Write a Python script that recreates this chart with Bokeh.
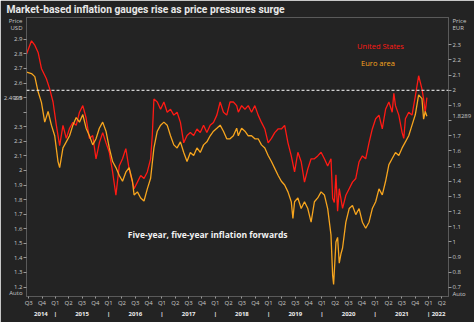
from bokeh.plotting import figure
from bokeh.models import Range1d, LinearAxis, FixedTicker, Label, Span
from bokeh.embed import file_html
from bokeh.resources import INLINE

# ---- data (decimal year, value) ----
us_x = [2014.460, 2014.553, 2014.615, 2014.677, 2014.739, 2014.832, 2014.894, 2014.957,
        2015.019, 2015.081, 2015.143, 2015.205, 2015.267, 2015.329, 2015.391, 2015.453,
        2015.515, 2015.577, 2015.639, 2015.701, 2015.763, 2015.825, 2015.888, 2015.950,
        2016.012, 2016.074, 2016.136, 2016.198, 2016.260, 2016.322, 2016.384, 2016.446,
        2016.477, 2016.539, 2016.601, 2016.663, 2016.725, 2016.787, 2016.818, 2016.849,
        2016.912, 2016.974, 2017.036, 2017.098, 2017.160, 2017.222, 2017.284, 2017.346,
        2017.408, 2017.470, 2017.532, 2017.594, 2017.656, 2017.718, 2017.780, 2017.842,
        2017.904, 2017.966, 2018.029, 2018.091, 2018.153, 2018.215, 2018.277, 2018.339,
        2018.401, 2018.432, 2018.494, 2018.556, 2018.618, 2018.680, 2018.742, 2018.804,
        2018.866, 2018.929, 2018.991, 2019.053, 2019.115, 2019.177, 2019.239, 2019.301,
        2019.363, 2019.425, 2019.487, 2019.549, 2019.611, 2019.673, 2019.735, 2019.797,
        2019.859, 2019.921, 2019.984, 2020.046, 2020.108, 2020.170, 2020.201, 2020.232,
        2020.263, 2020.294, 2020.325, 2020.387, 2020.449, 2020.511, 2020.573, 2020.635,
        2020.697, 2020.759, 2020.821, 2020.883, 2020.945, 2021.008, 2021.070, 2021.132,
        2021.194, 2021.256, 2021.318, 2021.349, 2021.380, 2021.442, 2021.504, 2021.535,
        2021.566, 2021.628, 2021.690, 2021.752, 2021.814, 2021.876, 2021.907, 2021.938,
        2021.969]
us_y = [2.80, 2.89, 2.86, 2.81, 2.70, 2.63, 2.56, 2.47,
        2.31, 2.17, 2.31, 2.22, 2.29, 2.33, 2.31, 2.40,
        2.445, 2.36, 2.22, 2.24, 2.08, 2.19, 2.26, 2.19,
        2.125, 1.99, 1.83, 2.03, 2.08, 2.15, 2.01, 1.92,
        1.875, 1.92, 1.966, 1.945, 1.99, 2.08, 2.24, 2.49,
        2.47, 2.42, 2.47, 2.40, 2.42, 2.38, 2.40, 2.33,
        2.19, 2.24, 2.26, 2.24, 2.285, 2.26, 2.31, 2.26,
        2.31, 2.33, 2.38, 2.47, 2.40, 2.38, 2.47, 2.47,
        2.445, 2.40, 2.445, 2.42, 2.445, 2.40, 2.445, 2.38,
        2.33, 2.285, 2.19, 2.22, 2.26, 2.285, 2.285, 2.31,
        2.19, 2.10, 1.99, 2.125, 2.06, 1.92, 2.01, 2.08,
        2.08, 2.10, 2.125, 2.08, 2.03, 2.08, 1.81, 1.78,
        1.97, 1.72, 1.875, 1.74, 1.83, 1.875, 1.92, 1.945,
        2.06, 2.10, 2.08, 2.19, 2.285, 2.355, 2.38, 2.285,
        2.42, 2.47, 2.40, 2.53, 2.445, 2.38, 2.26, 2.22,
        2.355, 2.40, 2.38, 2.51, 2.65, 2.56, 2.49, 2.40,
        2.4999]

ea_x = [2014.460, 2014.553, 2014.615, 2014.677, 2014.739, 2014.801, 2014.864, 2014.926,
        2014.988, 2015.050, 2015.081, 2015.143, 2015.205, 2015.267, 2015.329, 2015.391,
        2015.453, 2015.515, 2015.577, 2015.639, 2015.701, 2015.763, 2015.825, 2015.888,
        2015.950, 2016.012, 2016.074, 2016.136, 2016.198, 2016.260, 2016.322, 2016.384,
        2016.446, 2016.477, 2016.539, 2016.601, 2016.663, 2016.725, 2016.787, 2016.849,
        2016.912, 2016.974, 2017.036, 2017.098, 2017.160, 2017.222, 2017.284, 2017.346,
        2017.408, 2017.470, 2017.532, 2017.594, 2017.656, 2017.718, 2017.780, 2017.842,
        2017.904, 2017.966, 2018.029, 2018.091, 2018.153, 2018.215, 2018.277, 2018.339,
        2018.401, 2018.432, 2018.494, 2018.556, 2018.618, 2018.680, 2018.742, 2018.804,
        2018.866, 2018.929, 2018.991, 2019.053, 2019.115, 2019.177, 2019.239, 2019.301,
        2019.363, 2019.425, 2019.456, 2019.487, 2019.549, 2019.611, 2019.673, 2019.735,
        2019.797, 2019.859, 2019.921, 2019.984, 2020.046, 2020.108, 2020.170, 2020.201,
        2020.219, 2020.263, 2020.294, 2020.325, 2020.356, 2020.387, 2020.449, 2020.511,
        2020.573, 2020.635, 2020.697, 2020.759, 2020.821, 2020.883, 2020.945, 2021.008,
        2021.070, 2021.132, 2021.194, 2021.256, 2021.318, 2021.380, 2021.442, 2021.504,
        2021.566, 2021.628, 2021.690, 2021.752, 2021.814, 2021.876, 2021.907, 2021.938,
        2021.969]
ea_y = [2.12, 2.11, 2.09, 1.99, 1.92, 1.79, 1.86, 1.77,
        1.70, 1.53, 1.49, 1.62, 1.66, 1.70, 1.77, 1.82,
        1.79, 1.84, 1.75, 1.70, 1.64, 1.68, 1.75, 1.79,
        1.73, 1.62, 1.53, 1.49, 1.44, 1.40, 1.46, 1.49,
        1.40, 1.31, 1.33, 1.29, 1.27, 1.35, 1.42, 1.62,
        1.73, 1.77, 1.79, 1.77, 1.70, 1.64, 1.62, 1.66,
        1.59, 1.53, 1.59, 1.57, 1.62, 1.59, 1.64, 1.66,
        1.70, 1.73, 1.75, 1.77, 1.73, 1.68, 1.68, 1.70,
        1.75, 1.70, 1.75, 1.73, 1.70, 1.70, 1.68, 1.68,
        1.64, 1.62, 1.57, 1.53, 1.485, 1.44, 1.40, 1.375,
        1.33, 1.265, 1.155, 1.265, 1.29, 1.22, 1.265, 1.22,
        1.13, 1.265, 1.29, 1.33, 1.31, 1.22, 1.046, 0.78,
        0.72, 1.00, 1.03, 0.86, 0.92, 0.96, 1.13, 1.22,
        1.24, 1.18, 1.22, 1.13, 1.09, 1.13, 1.22, 1.265,
        1.35, 1.31, 1.40, 1.51, 1.55, 1.59, 1.57, 1.62,
        1.66, 1.70, 1.77, 1.84, 1.97, 1.945, 1.81, 1.86,
        1.8289]

usd_ticks = [1.2, 1.3, 1.4, 1.5, 1.6, 1.7, 1.8, 1.9, 2.0, 2.1, 2.2, 2.3, 2.4, 2.5, 2.6, 2.7, 2.8, 2.9]
eur_ticks = [0.7, 0.8, 0.9, 1.0, 1.1, 1.2, 1.3, 1.4, 1.5, 1.6, 1.7, 1.8, 1.9, 2.0, 2.1, 2.2, 2.3]
years = [2014, 2015, 2016, 2017, 2018, 2019, 2020, 2021, 2022]
quarter_names = ["Q1", "Q2", "Q3", "Q4"]

title_text = "Market-based inflation gauges rise as price pressures surge"
us_name = "United States"
ea_name = "Euro area"
note_text = "Five-year, five-year inflation forwards"
unit_word = "Price"
usd_word = "USD"
eur_word = "EUR"
auto_word = "Auto"

BG = "#232323"
RED = "#ff1a14"
ORANGE = "#f7a51e"
FONT = "Open Sans"

X0, X1 = 2014.459, 2022.374
USD0, USD1 = 1.135, 3.05
EUR0, EUR1 = 0.64, 2.48
p = figure(width=474, height=322, output_backend="svg", toolbar_location=None,
           x_range=Range1d(X0, X1), y_range=Range1d(USD0, USD1),
           x_axis_location=None, y_axis_location=None,
           min_border_left=25, min_border_right=24, min_border_top=17, min_border_bottom=26,
           background_fill_color=BG, border_fill_color=BG,
           outline_line_color="#5a5a5a")
p.extra_y_ranges = {"eur": Range1d(EUR0, EUR1)}
p.grid.visible = False

p.title.text = title_text
p.title.text_font = "Roboto"
p.title.text_font_size = "10.3px"
p.title.text_font_style = "bold"
p.title.text_color = "#e8e8e8"
p.title.align = "left"
p.title.vertical_align = "middle"
p.title.offset = -20
p.title.standoff = 2

def fmt(v):
    return "%d" % v if abs(v - round(v)) < 1e-9 else "%.1f" % v

def style_axis(ax):
    ax.axis_line_color = "#5a5a5a"
    ax.major_tick_line_color = "#9a9a9a"
    ax.major_tick_out = 3
    ax.major_tick_in = 0
    ax.minor_tick_line_color = None
    ax.major_label_text_color = "#c8c8c8"
    ax.major_label_text_font = FONT
    ax.major_label_text_font_size = "6px"
    ax.major_label_standoff = 1

def value_axis(ticks, skip, extras, range_name=None):
    major = [t for t in ticks if t != skip] + [v for v, _ in extras]
    overrides = {t: fmt(t) for t in ticks if t != skip}
    overrides.update({v: s for v, s in extras})
    kw = {} if range_name is None else {"y_range_name": range_name}
    ax = LinearAxis(ticker=FixedTicker(ticks=major, minor_ticks=ticks),
                    major_label_overrides=overrides, **kw)
    style_axis(ax)
    ax.major_tick_line_color = None
    ax.minor_tick_line_color = "#9a9a9a"
    ax.minor_tick_out = 3
    ax.minor_tick_in = 0
    return ax

# left (USD): the extra labels sit in the axis margin: unit caption, last value, Auto
left = value_axis(usd_ticks, 2.4,
                  [(3.027, unit_word), (2.979, usd_word), (1.158, auto_word),
                   (us_y[-1], "%.4f" % us_y[-1])])
p.add_layout(left, "left")

right = value_axis(eur_ticks, 1.8,
                   [(2.46, unit_word), (2.414, eur_word), (0.658, auto_word),
                    (ea_y[-1], "%.4f" % ea_y[-1])], range_name="eur")
p.add_layout(right, "right")

q_ticks, q_labels = [], []
for yr in years:
    for qi in range(4):
        t = yr + qi * 0.25
        if X0 <= t <= X1:
            q_ticks.append(t)
            q_labels.append(quarter_names[qi])
qax = LinearAxis(ticker=FixedTicker(ticks=q_ticks),
                 major_label_overrides=dict(zip(q_ticks, q_labels)))
style_axis(qax)
qax.major_tick_out = 2
qax.major_label_standoff = 0
p.add_layout(qax, "below")

y_ticks, y_over = [], {}
for yr in years:
    a, b = max(yr, X0), min(yr + 1, X1)
    mid = (a + b) / 2
    y_ticks.append(mid)
    y_over[mid] = str(yr)
    if yr > X0:
        y_ticks.append(float(yr))
        y_over[float(yr)] = "|"
yax = LinearAxis(ticker=FixedTicker(ticks=y_ticks), major_label_overrides=y_over)
style_axis(yax)
yax.axis_line_color = None
yax.major_tick_line_color = None
yax.major_tick_out = 0
yax.major_label_text_color = "#eeeeee"
yax.major_label_text_font_style = "bold"
yax.major_label_standoff = 0
p.add_layout(yax, "below")

p.add_layout(Span(location=2.0, dimension="width", y_range_name="eur",
                  line_color="white", line_dash="3 2", line_width=1))

p.line(us_x, us_y, line_color=RED, line_width=1.3)
p.line(ea_x, ea_y, line_color=ORANGE, line_width=1.3, y_range_name="eur")

def lab(x, y, text, **kw):
    opts = dict(text_font=FONT, text_baseline="middle", text_align="left")
    opts.update(kw)
    p.add_layout(Label(x=x, y=y, text=text, **opts))

lab(2020.66, 2.856, us_name, text_font_size="7.5px", text_color=RED)
lab(2020.734, 2.74, ea_name, text_font_size="7.5px", text_color=ORANGE)
lab(2016.359, 1.562, note_text, text_font_size="8.5px", text_font_style="bold",
    text_color="#f2f2f2")

open("out.html", "w").write(file_html(p, INLINE))
